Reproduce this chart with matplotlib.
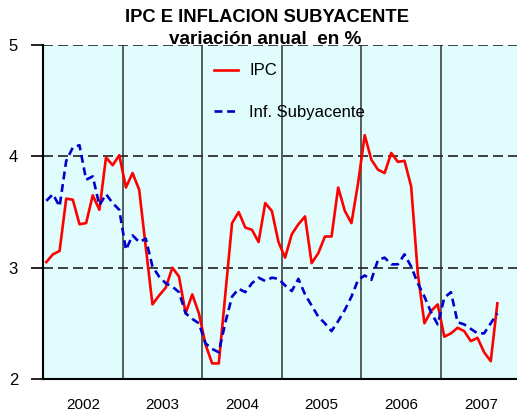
import numpy as np
import matplotlib
matplotlib.use("Agg")
import matplotlib.pyplot as plt

# ---- data (monthly, Jan 2002 - Sep 2007) ----
years = ["2002", "2003", "2004", "2005", "2006", "2007"]
ipc = [3.05, 3.12, 3.15, 3.62, 3.61, 3.39, 3.40, 3.65, 3.52, 3.99, 3.92, 4.01,
       3.72, 3.85, 3.70, 3.18, 2.67, 2.75, 2.82, 3.00, 2.92, 2.59, 2.76, 2.59,
       2.31, 2.14, 2.14, 2.77, 3.40, 3.50, 3.36, 3.34, 3.23, 3.58, 3.51, 3.23,
       3.09, 3.30, 3.39, 3.46, 3.04, 3.13, 3.28, 3.28, 3.72, 3.51, 3.40, 3.76,
       4.19, 3.97, 3.88, 3.85, 4.03, 3.95, 3.96, 3.73, 2.95, 2.50, 2.61, 2.67,
       2.38, 2.41, 2.46, 2.43, 2.34, 2.37, 2.24, 2.16, 2.68]
subyacente = [3.60, 3.66, 3.55, 3.96, 4.08, 4.10, 3.79, 3.82, 3.56, 3.66, 3.58, 3.52,
              3.16, 3.29, 3.23, 3.26, 3.01, 2.92, 2.86, 2.83, 2.78, 2.59, 2.54, 2.50,
              2.32, 2.27, 2.24, 2.51, 2.74, 2.81, 2.78, 2.86, 2.91, 2.88, 2.91, 2.90,
              2.84, 2.79, 2.90, 2.76, 2.66, 2.56, 2.50, 2.43, 2.52, 2.62, 2.74, 2.89,
              2.93, 2.89, 3.07, 3.09, 3.03, 3.03, 3.12, 3.01, 2.86, 2.74, 2.60, 2.49,
              2.73, 2.78, 2.51, 2.49, 2.45, 2.41, 2.41, 2.50, 2.59]
yticks = [2, 3, 4, 5]

plt.rcParams['font.family'] = ['Liberation Sans', 'DejaVu Sans']

W, H = 517, 412
fig = plt.figure(figsize=(W / 100, H / 100), dpi=100)
left_px, right_px, top_px, bot_px = 43, 517, 45, 379
ax = fig.add_axes([left_px / W, 1 - bot_px / H, (right_px - left_px) / W, (bot_px - top_px) / H])
ax.set_facecolor('#E0FCFC')

x = np.arange(len(ipc)) + 0.5
ax.plot(x, ipc, color='#FF0000', lw=1.9, label='IPC', zorder=3)
ax.plot(x, subyacente, color='#0000CC', lw=1.9, ls=(0, (3.0, 1.8)), label='Inf. Subyacente', zorder=3)

months_per_px = 12 / 79.6
ax.set_xlim(0, (right_px - left_px) * months_per_px)
ax.set_ylim(2, 5)

# year gridlines
for k in range(1, len(years)):
    ax.axvline(12 * k, color='#404040', lw=1.2, zorder=1)
for yv in [3, 4, 5]:
    ax.axhline(yv, color='#202020', lw=1.2, ls=(0, (6, 3)), zorder=1)

ax.set_yticks(yticks)
ax.set_yticklabels([str(v) for v in yticks], fontsize=12)
ax.tick_params(axis='y', length=9, width=1.2, pad=9)
ax.set_xticks([12 * k + 6 for k in range(len(years))])
ax.set_xticklabels(years, fontsize=11)
ax.tick_params(axis='x', length=0, pad=14)

for s in ['top', 'right']:
    ax.spines[s].set_visible(False)
ax.spines['left'].set_linewidth(1.5)
ax.spines['bottom'].set_linewidth(1.5)

leg = ax.legend(loc='upper left', bbox_to_anchor=(0.33, 0.99), frameon=False, fontsize=12,
                handlelength=1.4, labelspacing=1.6, handletextpad=0.7)

fig.text(0.517, 0.957, 'IPC E INFLACION SUBYACENTE', ha='center', va='center',
         fontsize=13.2, fontweight='bold')
fig.text(0.512, 0.905, 'variación anual  en %', ha='center', va='center',
         fontsize=13.6, fontweight='bold')

fig.savefig('out.png', dpi=100)
